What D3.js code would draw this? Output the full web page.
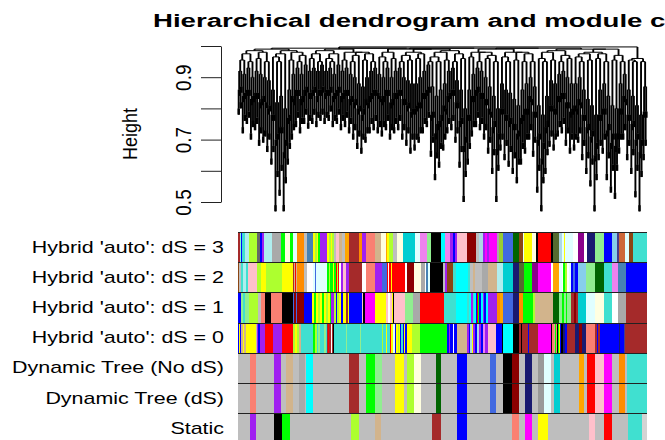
<!DOCTYPE html>
<html>
<head>
<meta charset="utf-8">
<script src="https://cdn.jsdelivr.net/npm/d3@7"></script>
<style>
	body { margin: 0; background: #fff; }
	svg { display: block; font-family: "Liberation Sans", Arial, Helvetica, sans-serif; }
</style>
</head>
<body>
<svg id="chart" width="665" height="440"></svg>
<script>
// ---- data ----

var chartTitle = "Hierarchical dendrogram and module colors";
var yLabel = "Height";
var heightTicks = [0.5, 0.6, 0.7, 0.8, 0.9, 1.0];
var heightTickLabels = ["0.5", "", "0.7", "", "0.9", ""];

// length of the gene order axis (colour bars and leaves share it)
var ORDER_LEN = 409;

// dendrogram: 100 clusters of 6 leaves, left to right
// lowest leaf tip of the first sub-cluster
var clusterTip = [
	0.78, 0.72, 0.75, 0.70, 0.73, 0.68, 0.69, 0.66, 0.62, 0.47,
	0.52, 0.47, 0.62, 0.70, 0.74, 0.72, 0.75, 0.735, 0.75, 0.74,
	0.76, 0.75, 0.76, 0.74, 0.75, 0.73, 0.74, 0.72, 0.70, 0.67,
	0.655, 0.69, 0.72, 0.73, 0.72, 0.71, 0.73, 0.70, 0.72, 0.73,
	0.70, 0.68, 0.655, 0.665, 0.69, 0.72, 0.74, 0.645, 0.57, 0.61,
	0.665, 0.72, 0.73, 0.69, 0.61, 0.50, 0.62, 0.71, 0.74, 0.73,
	0.70, 0.655, 0.59, 0.50, 0.665, 0.634, 0.613, 0.59, 0.56, 0.62,
	0.655, 0.70, 0.645, 0.53, 0.47, 0.59, 0.677, 0.665, 0.71, 0.72,
	0.68, 0.655, 0.665, 0.69, 0.634, 0.59, 0.55, 0.47, 0.634, 0.655,
	0.57, 0.53, 0.51, 0.655, 0.70, 0.634, 0.59, 0.515, 0.47, 0.634
];
// merge that adds the third leaf to the first sub-cluster
var clusterInner = [
	0.86, 0.84, 0.86, 0.83, 0.85, 0.82, 0.84, 0.80, 0.78, 0.70,
	0.74, 0.66, 0.77, 0.84, 0.86, 0.83, 0.86, 0.85, 0.86, 0.84,
	0.86, 0.85, 0.86, 0.84, 0.86, 0.84, 0.86, 0.83, 0.82, 0.80,
	0.78, 0.83, 0.84, 0.86, 0.85, 0.83, 0.86, 0.82, 0.85, 0.86,
	0.83, 0.81, 0.79, 0.80, 0.82, 0.85, 0.86, 0.78, 0.72, 0.76,
	0.81, 0.84, 0.86, 0.82, 0.76, 0.68, 0.78, 0.84, 0.86, 0.85,
	0.83, 0.80, 0.74, 0.67, 0.80, 0.78, 0.76, 0.75, 0.72, 0.77,
	0.80, 0.84, 0.79, 0.70, 0.64, 0.74, 0.81, 0.80, 0.84, 0.85,
	0.82, 0.79, 0.81, 0.83, 0.78, 0.74, 0.71, 0.65, 0.78, 0.80,
	0.73, 0.69, 0.68, 0.80, 0.84, 0.78, 0.75, 0.70, 0.66, 0.79
];
// where the two sub-clusters meet
var clusterMid = [
	0.92, 0.91, 0.93, 0.90, 0.92, 0.91, 0.90, 0.89, 0.86, 0.82,
	0.84, 0.80, 0.86, 0.91, 0.93, 0.91, 0.94, 0.92, 0.93, 0.92,
	0.94, 0.92, 0.93, 0.91, 0.94, 0.92, 0.93, 0.91, 0.90, 0.88,
	0.87, 0.90, 0.92, 0.93, 0.91, 0.90, 0.93, 0.90, 0.92, 0.93,
	0.90, 0.89, 0.88, 0.88, 0.90, 0.92, 0.94, 0.87, 0.84, 0.86,
	0.88, 0.92, 0.93, 0.89, 0.86, 0.80, 0.86, 0.91, 0.93, 0.92,
	0.90, 0.87, 0.84, 0.80, 0.88, 0.86, 0.85, 0.83, 0.81, 0.86,
	0.88, 0.90, 0.87, 0.81, 0.78, 0.84, 0.89, 0.88, 0.91, 0.92,
	0.90, 0.88, 0.88, 0.90, 0.86, 0.83, 0.81, 0.78, 0.86, 0.88,
	0.84, 0.81, 0.80, 0.88, 0.91, 0.86, 0.84, 0.81, 0.78, 0.87
];
// lowest leaf tip of the second sub-cluster
var clusterTip2 = [
	0.80, 0.76, 0.77, 0.74, 0.75, 0.72, 0.71, 0.70, 0.66, 0.58,
	0.60, 0.56, 0.67, 0.73, 0.77, 0.75, 0.78, 0.76, 0.78, 0.77,
	0.78, 0.77, 0.79, 0.76, 0.78, 0.76, 0.77, 0.75, 0.73, 0.71,
	0.70, 0.72, 0.75, 0.76, 0.74, 0.74, 0.76, 0.73, 0.75, 0.76,
	0.73, 0.72, 0.70, 0.70, 0.72, 0.75, 0.77, 0.69, 0.64, 0.67,
	0.70, 0.75, 0.76, 0.72, 0.66, 0.58, 0.67, 0.74, 0.77, 0.75,
	0.73, 0.69, 0.65, 0.60, 0.70, 0.68, 0.66, 0.64, 0.62, 0.67,
	0.70, 0.73, 0.69, 0.60, 0.56, 0.65, 0.71, 0.70, 0.74, 0.75,
	0.72, 0.70, 0.70, 0.72, 0.68, 0.64, 0.62, 0.57, 0.68, 0.70,
	0.64, 0.60, 0.60, 0.70, 0.73, 0.68, 0.65, 0.60, 0.58, 0.68
];
// merge that adds the third leaf to the second sub-cluster
var clusterInner2 = [
	0.87, 0.85, 0.86, 0.84, 0.85, 0.83, 0.82, 0.81, 0.78, 0.72,
	0.74, 0.70, 0.78, 0.83, 0.86, 0.84, 0.87, 0.85, 0.87, 0.86,
	0.87, 0.86, 0.87, 0.85, 0.87, 0.85, 0.86, 0.84, 0.83, 0.81,
	0.80, 0.82, 0.85, 0.86, 0.84, 0.84, 0.86, 0.83, 0.85, 0.86,
	0.83, 0.82, 0.80, 0.81, 0.82, 0.85, 0.87, 0.79, 0.75, 0.78,
	0.80, 0.85, 0.86, 0.82, 0.77, 0.71, 0.78, 0.84, 0.87, 0.85,
	0.83, 0.79, 0.76, 0.72, 0.80, 0.78, 0.77, 0.75, 0.73, 0.78,
	0.80, 0.83, 0.79, 0.72, 0.69, 0.76, 0.81, 0.80, 0.84, 0.85,
	0.82, 0.80, 0.80, 0.82, 0.78, 0.75, 0.73, 0.69, 0.78, 0.80,
	0.75, 0.72, 0.72, 0.80, 0.83, 0.78, 0.76, 0.72, 0.70, 0.79
];
// height where cluster k joins cluster k+1
var clusterJoin = [
	0.955, 0.975, 0.95, 0.985, 0.96, 0.98, 0.95, 0.99, 0.965, 0.95,
	0.975, 0.985, 0.955, 0.98, 0.95, 0.97, 0.993, 0.96, 0.975, 0.95,
	0.985, 0.96, 0.95, 0.975, 0.99, 0.955, 0.98, 0.95, 0.97, 0.98,
	0.955, 0.975, 0.95, 0.993, 0.965, 0.95, 0.98, 0.96, 0.99, 0.95,
	0.97, 0.955, 0.98, 0.96, 0.975, 0.99, 0.95, 0.965, 0.95, 0.98,
	0.955, 0.985, 0.95, 0.975, 0.96, 0.993, 0.965, 0.98, 0.95, 0.98,
	0.96, 0.97, 0.95, 0.99, 0.965, 0.95, 0.98, 0.955, 0.98, 0.95,
	0.975, 0.95, 0.993, 0.96, 0.95, 0.98, 0.955, 0.985, 0.95, 0.97,
	0.96, 0.99, 0.965, 0.95, 0.975, 0.955, 0.98, 0.96, 0.975, 0.95,
	0.99, 0.955, 0.97, 0.95, 0.997, 0.955, 0.95, 0.96, 0.95
];

var rowLabels = [
	"Hybrid 'auto': dS = 3",
	"Hybrid 'auto': dS = 2",
	"Hybrid 'auto': dS = 1",
	"Hybrid 'auto': dS = 0",
	"Dynamic Tree (No dS)",
	"Dynamic Tree (dS)",
	"Static"
];

// colour rows: [start in gene order, module colour]
var hybridDS3 = [[0,'brown'],[1.5,'aquamarine'],[3,'blue'],[4,'turquoise'],[7,'paleturquoise'],[11,'greenyellow'],[19,'grey40'],[22,'blue'],[24,'purple'],[26,'paleturquoise'],[34,'darkgrey'],[43,'green'],[47,'lightyellow'],[52,'green'],[55,'lightcyan'],[59,'darkorange'],[66,'grey'],[69,'steelblue'],[75,'yellow'],[77,'greenyellow'],[79,'yellow'],[80,'green'],[82,'purple'],[89,'yellow'],[91,'greenyellow'],[93,'yellow'],[94,'greenyellow'],[96,'grey'],[98,'pink'],[101,'tan'],[104,'grey'],[107,'orange'],[111,'brown'],[121,'darkorange'],[124,'purple'],[128,'salmon'],[137,'tan'],[143,'lightyellow'],[148,'orange'],[149,'yellow'],[151,'greenyellow'],[155,'grey'],[159,'lightyellow'],[165,'darkturquoise'],[177,'lightcyan'],[182,'violet'],[189,'lightgreen'],[193,'black'],[203,'cyan'],[207,'violet'],[212,'purple'],[215,'blue'],[217,'purple'],[219,'pink'],[229,'darkred'],[238,'grey'],[241,'lightblue'],[245,'purple'],[247,'magenta'],[249,'purple'],[251,'magenta'],[259,'darkgrey'],[261,'yellowgreen'],[265,'royalblue'],[275,'darkgreen'],[281,'saddlebrown'],[285,'lightcyan'],[286,'yellow'],[294,'lightyellow'],[298,'black'],[300,'red'],[313,'black'],[315,'darkolivegreen'],[321,'lightblue'],[324,'lightcyan'],[326,'yellow'],[327,'lightcyan'],[335,'white'],[340,'darkmagenta'],[346,'white'],[349,'midnightblue'],[357,'lightgreen'],[366,'blue'],[374,'skyblue'],[379,'darkslateblue'],[381,'sienna3'],[387,'lightcyan'],[391,'saddlebrown'],[395,'turquoise']];

var hybridDS2 = [[0,'saddlebrown'],[1,'grey'],[3,'turquoise'],[5,'paleturquoise'],[8,'turquoise'],[10,'pink'],[19,'greenyellow'],[23,'yellow'],[28,'greenyellow'],[44,'yellow'],[55,'brown'],[56,'tan'],[57,'red'],[58,'tan'],[59,'darkorange'],[66,'grey'],[69,'white'],[75,'lightcyan'],[77,'royalblue'],[78,'lightcyan'],[89,'green'],[91,'greenyellow'],[92,'green'],[95,'yellow'],[96,'green'],[98,'red'],[99,'greenyellow'],[100,'red'],[101,'white'],[103,'purple'],[105,'pink'],[108,'purple'],[111,'brown'],[124,'white'],[128,'salmon'],[137,'purple'],[144,'royalblue'],[149,'red'],[150,'white'],[151,'red'],[153,'yellow'],[154,'red'],[167,'white'],[169,'darkred'],[176,'lightyellow'],[183,'darkgrey'],[187,'white'],[188,'steelblue'],[190,'lightcyan'],[192,'black'],[205,'grey'],[207,'purple'],[209,'saddlebrown'],[215,'turquoise'],[218,'cyan'],[230,'turquoise'],[232,'grey'],[235,'tan'],[237,'grey'],[244,'darkgrey'],[250,'tan'],[259,'paleturquoise'],[265,'darkturquoise'],[275,'midnightblue'],[281,'darkolivegreen'],[286,'green'],[294,'darkmagenta'],[300,'magenta'],[313,'white'],[315,'orange'],[321,'lightcyan'],[324,'white'],[325,'green'],[327,'greenyellow'],[329,'white'],[331,'lightcyan'],[333,'blue'],[335,'royalblue'],[337,'blue'],[340,'skyblue'],[348,'lightgreen'],[357,'darkgreen'],[366,'turquoise'],[374,'violet'],[380,'steelblue'],[388,'blue']];

var hybridDS1 = [[0,'blue'],[3,'lightgreen'],[5,'turquoise'],[7,'lightgreen'],[11,'greenyellow'],[20,'grey'],[23,'salmon'],[27,'black'],[33,'salmon'],[44,'black'],[55,'royalblue'],[56,'darkred'],[58,'royalblue'],[59,'darkred'],[66,'blue'],[74,'yellow'],[76,'green'],[78,'yellow'],[80,'greenyellow'],[82,'yellow'],[84,'green'],[86,'yellow'],[88,'greenyellow'],[90,'yellow'],[92,'green'],[93,'purple'],[96,'greenyellow'],[98,'blue'],[99,'greenyellow'],[101,'yellow'],[103,'blue'],[105,'yellow'],[108,'brown'],[110,'yellow'],[111,'blue'],[124,'pink'],[125,'black'],[127,'magenta'],[137,'yellow'],[148,'pink'],[150,'white'],[152,'pink'],[154,'yellow'],[155,'black'],[156,'pink'],[167,'lightgreen'],[175,'darkgrey'],[182,'red'],[206,'turquoise'],[218,'cyan'],[229,'turquoise'],[231,'cyan'],[233,'purple'],[235,'turquoise'],[236,'cyan'],[238,'blue'],[239,'red'],[240,'green'],[241,'blue'],[243,'cyan'],[245,'purple'],[246,'blue'],[248,'cyan'],[250,'purple'],[259,'darkorange'],[262,'orange'],[265,'royalblue'],[275,'midnightblue'],[281,'darkorange'],[285,'green'],[295,'greenyellow'],[297,'tan'],[315,'darkgreen'],[321,'lightgreen'],[324,'green'],[326,'lightgreen'],[328,'green'],[329,'lightgreen'],[333,'brown'],[336,'darkred'],[338,'brown'],[340,'darkturquoise'],[348,'lightcyan'],[357,'lightyellow'],[366,'turquoise'],[374,'white'],[380,'darkgrey'],[388,'brown']];

var hybridDS0 = [[0,'blue'],[1,'yellow'],[2,'blue'],[3,'tan'],[5,'yellow'],[6,'tan'],[8,'yellow'],[18,'grey'],[19,'purple'],[20,'blue'],[22,'purple'],[27,'red'],[35,'purple'],[44,'red'],[55,'greenyellow'],[57,'yellow'],[59,'greenyellow'],[61,'tan'],[63,'turquoise'],[75,'green'],[77,'greenyellow'],[79,'turquoise'],[80,'lightgreen'],[82,'turquoise'],[86,'lightgreen'],[88,'turquoise'],[89,'brown'],[90,'red'],[91,'brown'],[93,'white'],[94,'brown'],[95,'black'],[96,'turquoise'],[108,'lightgreen'],[109,'turquoise'],[122,'lightgreen'],[123,'turquoise'],[144,'greenyellow'],[145,'turquoise'],[148,'yellow'],[149,'turquoise'],[152,'red'],[153,'yellow'],[155,'lightcyan'],[157,'blue'],[158,'yellow'],[160,'greenyellow'],[161,'yellow'],[162,'blue'],[163,'turquoise'],[165,'blue'],[166,'yellow'],[167,'blue'],[169,'yellow'],[174,'greenyellow'],[182,'green'],[209,'blue'],[211,'purple'],[212,'blue'],[215,'white'],[216,'blue'],[219,'tan'],[229,'purple'],[231,'blue'],[232,'lightblue'],[234,'yellow'],[235,'purple'],[237,'blue'],[239,'lightblue'],[241,'purple'],[243,'blue'],[245,'violet'],[247,'purple'],[250,'pink'],[258,'blue'],[264,'black'],[265,'cyan'],[275,'black'],[281,'brown'],[283,'black'],[284,'brown'],[290,'blue'],[291,'brown'],[300,'magenta'],[313,'black'],[314,'salmon'],[316,'tan'],[317,'green'],[318,'salmon'],[319,'black'],[320,'green'],[321,'yellow'],[322,'blue'],[323,'black'],[325,'midnightblue'],[327,'blue'],[329,'brown'],[337,'midnightblue'],[341,'darkred'],[344,'midnightblue'],[348,'salmon'],[357,'brown'],[359,'blue'],[360,'brown'],[362,'blue'],[381,'midnightblue'],[382,'blue'],[386,'darkslateblue'],[387,'brown']];

var dynamicNoDS = [[0,'grey'],[11.7,'salmon'],[18.3,'grey'],[36,'purple'],[43.3,'grey'],[47.7,'tan'],[55.3,'grey'],[61,'darkgrey'],[66.7,'grey'],[67.7,'cyan'],[75.3,'grey'],[111,'brown'],[121,'grey'],[127.7,'green'],[137,'lightgreen'],[143.7,'grey'],[157,'yellow'],[166,'grey'],[168.7,'greenyellow'],[176.3,'lightyellow'],[183,'grey'],[198,'darkgreen'],[203,'grey'],[219.3,'blue'],[229.3,'grey'],[252,'royalblue'],[258,'grey'],[265.3,'black'],[274,'darkred'],[280.7,'grey'],[287.3,'midnightblue'],[294,'grey'],[299.7,'grey60'],[306.3,'lightcyan'],[313,'grey'],[316.3,'darkturquoise'],[322,'grey'],[340.7,'orange'],[346.3,'grey'],[348.7,'red'],[357.3,'pink'],[366.3,'magenta'],[374,'grey'],[381.3,'darkorange'],[387.3,'grey'],[388.7,'turquoise']];

var dynamicDS = [[0,'grey'],[11.7,'salmon'],[18.3,'grey'],[36,'purple'],[43.3,'grey'],[47.7,'tan'],[55.3,'grey'],[61,'darkgrey'],[66.7,'grey'],[67.7,'cyan'],[75.3,'grey'],[111,'brown'],[121,'grey'],[127.7,'green'],[137,'lightgreen'],[143.7,'grey'],[157,'yellow'],[166,'grey'],[168.7,'greenyellow'],[176.3,'lightyellow'],[183,'grey'],[198,'darkgreen'],[203,'grey'],[219.3,'blue'],[229.3,'grey'],[252,'royalblue'],[258,'grey'],[265.3,'black'],[274,'darkred'],[280.7,'grey'],[287.3,'midnightblue'],[294,'grey'],[299.7,'grey60'],[306.3,'lightcyan'],[313,'grey'],[316.3,'darkturquoise'],[322,'grey'],[340.7,'orange'],[346.3,'grey'],[348.7,'red'],[357.3,'pink'],[366.3,'magenta'],[374,'grey'],[381.3,'darkorange'],[387.3,'grey'],[388.7,'turquoise']];

var staticCut = [[0,'grey'],[11.7,'purple'],[18.3,'grey'],[36,'black'],[43.5,'green'],[52,'grey'],[113.3,'greenyellow'],[121,'grey'],[137,'tan'],[143,'grey'],[193.7,'brown'],[203,'grey'],[219.3,'blue'],[228.7,'grey'],[274,'salmon'],[280.7,'grey'],[287,'magenta'],[294,'grey'],[299.7,'yellow'],[309.7,'grey'],[350.7,'pink'],[357.3,'grey'],[366.3,'red'],[374,'grey'],[389.7,'turquoise'],[404,'lightgrey']];

var colorRows = [hybridDS3, hybridDS2, hybridDS1, hybridDS0, dynamicNoDS, dynamicDS, staticCut];

// R colour names that differ from CSS
var rColors = { grey: '#BEBEBE', grey40: '#666666', grey60: '#999999', purple: '#A020F0', green: '#00FF00', sienna3: '#CD6839' };
function rcol(name){ return rColors[name] || name; }

// ---- layout ----
var svg = d3.select("#chart");
var plotLeft = 238, plotRight = 647;
var axisX = 221;
var hang = 0.02;

var xOrder = d3.scaleLinear().domain([0, ORDER_LEN]).range([plotLeft, plotRight]);
var yH = d3.scaleLinear().domain([0.5, 1.0]).range([202, 46]);
var yRow = d3.scaleBand().domain(rowLabels).range([232, 443.5]);

// title (runs off the right edge, as in the source)
svg.append("text")
	.attr("x", 443).attr("y", 27)
	.attr("text-anchor", "middle")
	.attr("font-weight", "bold")
	.attr("font-size", 17.5)
	.attr("textLength", 580)
	.attr("lengthAdjust", "spacingAndGlyphs")
	.text(chartTitle);

// ---- dendrogram ----
// adjacent merge heights in leaf order
var merges = [];
clusterTip.forEach(function(t, k){
	merges.push(t + hang, clusterInner[k], clusterMid[k], clusterTip2[k] + hang, clusterInner2[k]);
	if( k < clusterJoin.length ) merges.push(clusterJoin[k]);
});
var nLeaves = merges.length + 1;

function buildNode(lo, hi){
	if( lo == hi ){
		return { leaf: true, x: xOrder((lo + 0.5) * ORDER_LEN / nLeaves) };
	}
	var best = lo;
	for( var i=lo; i<hi; i++ ){
		if( merges[i] > merges[best] ) best = i;
	}
	var l = buildNode(lo, best), r = buildNode(best + 1, hi);
	return { leaf: false, height: merges[best], left: l, right: r, x: (l.x + r.x) / 2 };
}
var root = buildNode(0, nLeaves - 1);

var hSegs = [], vSegs = [];
(function walk(node){
	if( node.leaf ) return;
	hSegs.push([node.left.x, node.height, node.right.x, node.height]);
	[node.left, node.right].forEach(function(c){
		var bottom = c.leaf ? node.height - hang : c.height;
		vSegs.push([c.x, node.height, c.x, bottom]);
		walk(c);
	});
})(root);

function drawSegs(list, width){
	svg.append("g")
		.attr("stroke", "#000")
		.attr("stroke-width", width)
		.selectAll("line")
		.data(list)
		.enter().append("line")
			.attr("x1", function(d){ return d[0]; })
			.attr("y1", function(d){ return yH(d[1]); })
			.attr("x2", function(d){ return d[2]; })
			.attr("y2", function(d){ return yH(d[3]); });
}
drawSegs(vSegs, 1.9);
drawSegs(hSegs, 1);

// y axis
var yAxis = d3.axisLeft(yH)
	.tickValues(heightTicks)
	.tickFormat(function(d, i){ return heightTickLabels[i]; })
	.tickSize(20)
	.tickSizeOuter(0);

var ag = svg.append("g")
	.attr("transform", "translate(" + axisX + ",0)")
	.call(yAxis);
ag.select(".domain").attr("stroke", "#222");
ag.selectAll(".tick line").attr("stroke", "#222");
ag.selectAll(".tick text")
	.attr("x", null).attr("dy", null)
	.attr("transform", "translate(-30,0) scale(1.15,1) rotate(-90)")
	.attr("text-anchor", "middle")
	.attr("font-family", "Liberation Sans, Arial, sans-serif")
	.attr("font-size", 19)
	.attr("fill", "#000");

svg.append("text")
	.attr("transform", "translate(137,134) scale(1.1,1) rotate(-90)")
	.attr("text-anchor", "middle")
	.attr("font-size", 18)
	.text(yLabel);

// ---- colour rows ----
var rowG = svg.append("g").attr("shape-rendering", "crispEdges");
colorRows.forEach(function(row, ri){
	var runs = row.map(function(b, i){
		var end = i + 1 < row.length ? row[i + 1][0] : ORDER_LEN;
		return { start: b[0], end: end, color: b[1] };
	});
	rowG.append("g")
		.selectAll("rect")
		.data(runs)
		.enter().append("rect")
			.attr("x", function(d){ return xOrder(d.start); })
			.attr("y", yRow(rowLabels[ri]))
			.attr("width", function(d){ return xOrder(d.end) - xOrder(d.start); })
			.attr("height", yRow.bandwidth())
			.attr("fill", function(d){ return rcol(d.color); });
});

// separators between rows
rowG.selectAll("line.sep")
	.data(rowLabels)
	.enter().append("line")
		.attr("class", "sep")
		.attr("x1", xOrder(0)).attr("x2", xOrder(ORDER_LEN))
		.attr("y1", function(d){ return Math.round(yRow(d)) + 0.5; })
		.attr("y2", function(d){ return Math.round(yRow(d)) + 0.5; })
		.attr("stroke", "#222")
		.attr("stroke-width", 1);

// row labels, horizontally stretched like the source
svg.append("g")
	.selectAll("text")
	.data(rowLabels)
	.enter().append("text")
		.attr("transform", function(d){
			return "translate(224," + (yRow(d) + yRow.bandwidth() / 2 + 5.5) + ") scale(1.34,1)";
		})
		.attr("text-anchor", "end")
		.attr("font-size", 16)
		.text(function(d){ return d; });
</script>
</body>
</html>
